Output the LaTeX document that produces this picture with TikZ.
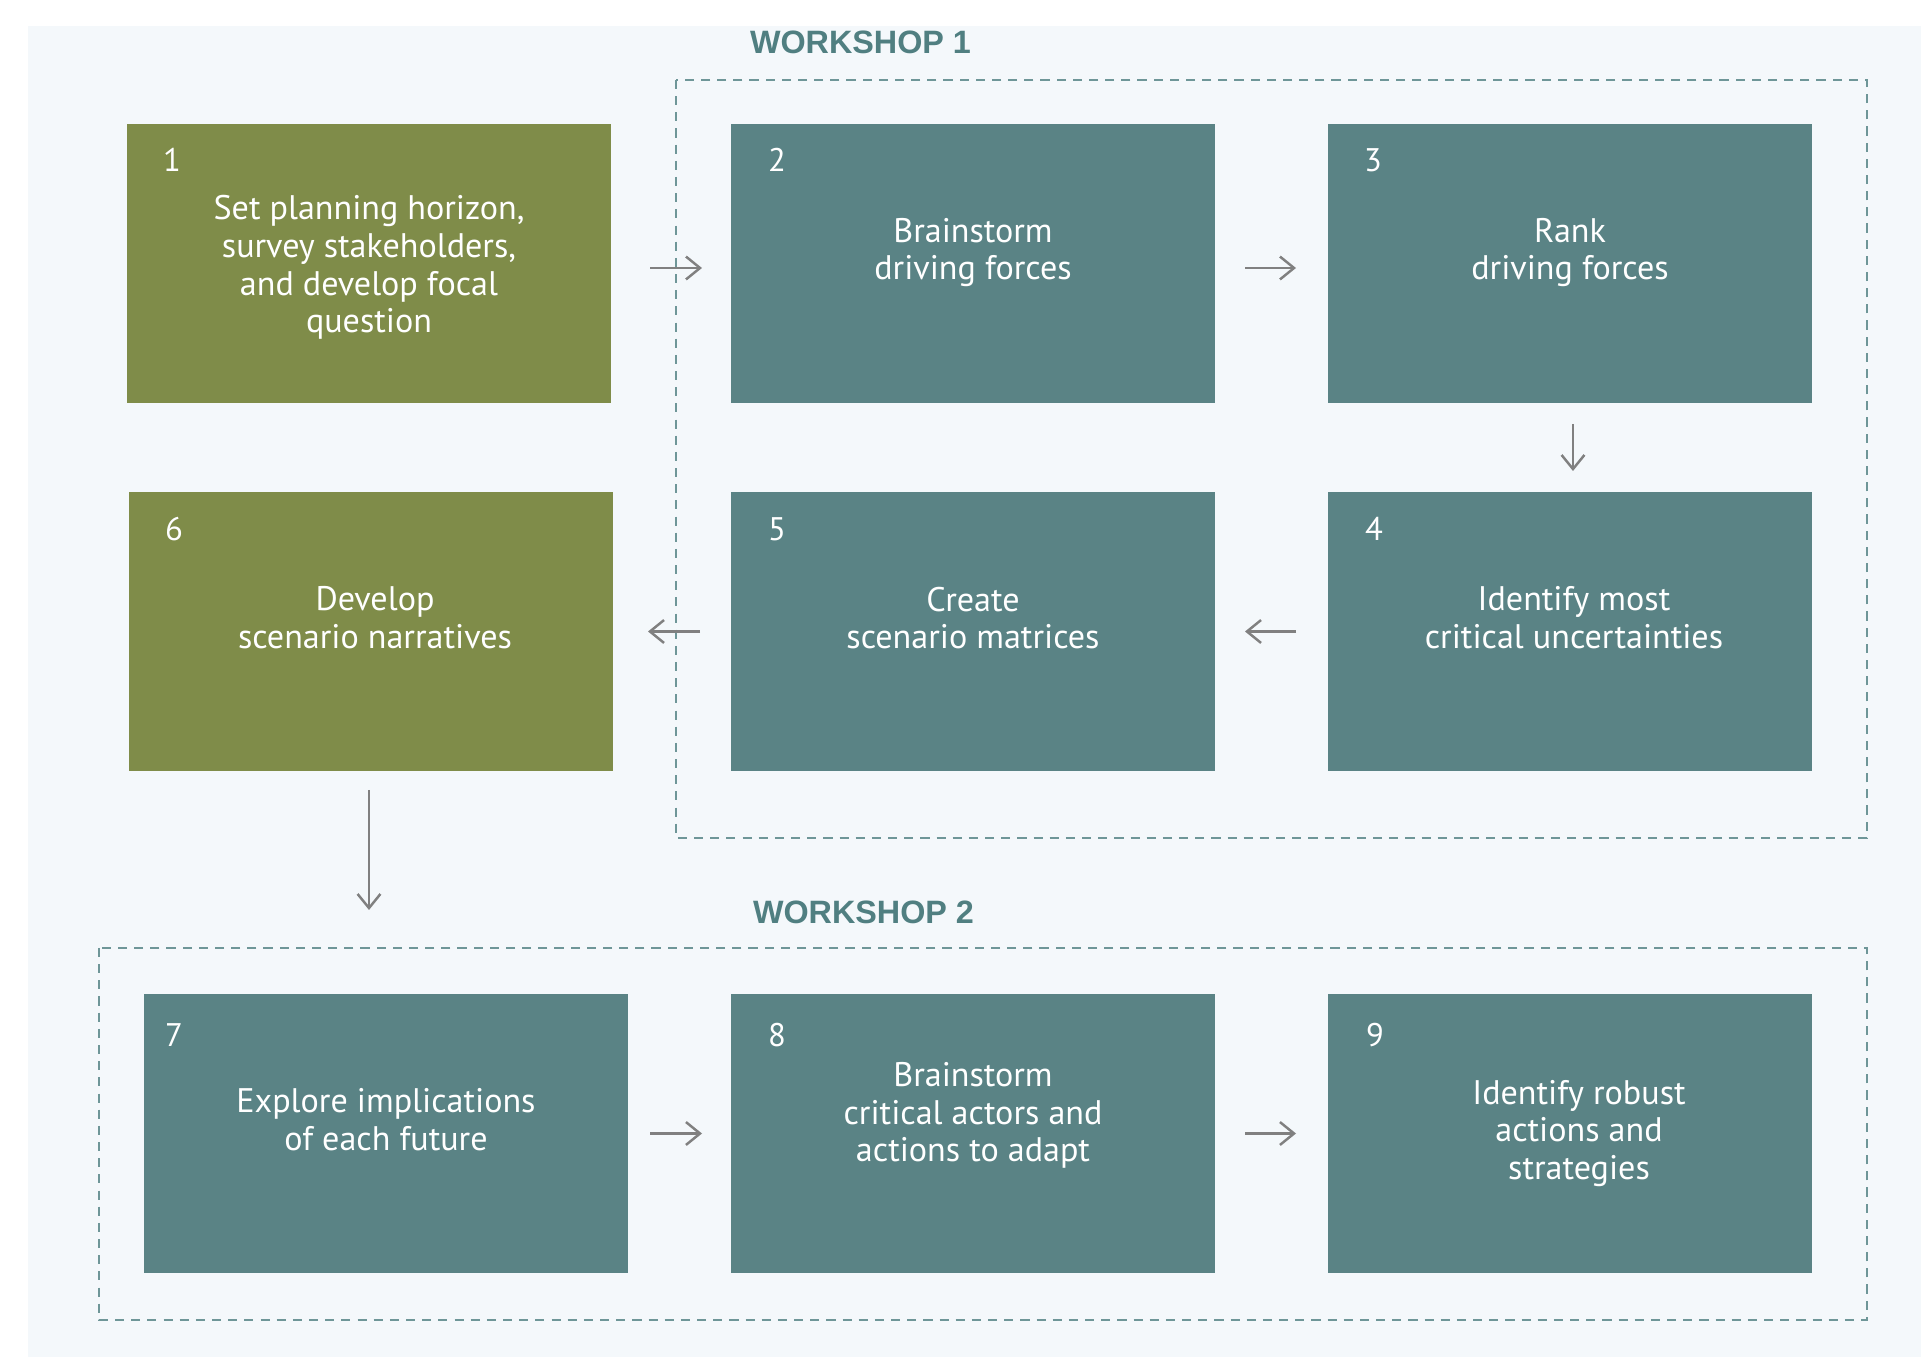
\documentclass[tikz,border=0pt]{standalone}
\usepackage{fontspec}
\setmainfont{PT Sans}
\newfontfamily\headfont{Liberation Sans}
\usepackage{tikz}
\usetikzlibrary{positioning, arrows.meta}
\definecolor{stepgreen}{RGB}{127,140,73}
\definecolor{stepteal}{RGB}{90,131,133}
\definecolor{bgblue}{RGB}{244,248,251}
\definecolor{frameteal}{RGB}{110,150,152}
\definecolor{headteal}{RGB}{80,127,129}
\definecolor{arrowgrey}{RGB}{128,128,128}
\tikzstyle{stepbox}=[rectangle, draw=none, minimum width=4.84cm, minimum height=2.79cm, inner sep=0pt, outer sep=0pt]
\tikzstyle{steptext}=[align=center, text=white, font=\fontsize{9.7}{10.75}\selectfont]
\tikzstyle{stepnum}=[text=white, font=\fontsize{9.3}{10.8}\selectfont]
\tikzstyle{flow}=[-{Straight Barb[length=4pt, width=6.5pt]}, draw=arrowgrey, line width=0.7pt]
\tikzstyle{frame}=[draw=frameteal, line width=0.6pt, dash pattern=on 2.6pt off 2pt]
\tikzstyle{wshead}=[text=headteal, font=\headfont\bfseries\fontsize{9.2}{10.8}\selectfont]

\begin{document}
\begin{tikzpicture}
		\useasboundingbox (0,0) rectangle (19.21,-13.57);
		\fill[bgblue] (0.28,-0.26) rectangle (19.21,-13.57);
		\node[stepbox, fill=stepgreen] (b1) at (3.69,-2.635) {};
		\node[stepbox, fill=stepteal, right=1.2cm of b1] (b2) {};
		\node[stepbox, fill=stepteal, right=1.13cm of b2] (b3) {};
		\node[stepbox, fill=stepteal, below=0.89cm of b3] (b4) {};
		\node[stepbox, fill=stepteal, below=0.89cm of b2] (b5) {};
		\node[stepbox, fill=stepgreen, below=0.89cm of b1, xshift=0.02cm] (b6) {};
		\node[stepbox, fill=stepteal, below=2.23cm of b5] (b8) {};
		\node[stepbox, fill=stepteal, left=1.03cm of b8] (b7) {};
		\node[stepbox, fill=stepteal, below=2.23cm of b4] (b9) {};
		\node[stepnum] (n1) at ([xshift=0.45cm, yshift=-0.36cm]b1.north west) {1};
		\node[stepnum] (n2) at ([xshift=0.46cm, yshift=-0.36cm]b2.north west) {2};
		\node[stepnum] (n3) at ([xshift=0.45cm, yshift=-0.36cm]b3.north west) {3};
		\node[stepnum] (n4) at ([xshift=0.46cm, yshift=-0.37cm]b4.north west) {4};
		\node[stepnum] (n5) at ([xshift=0.46cm, yshift=-0.37cm]b5.north west) {5};
		\node[stepnum] (n6) at ([xshift=0.45cm, yshift=-0.37cm]b6.north west) {6};
		\node[stepnum] (n7) at ([xshift=0.30cm, yshift=-0.41cm]b7.north west) {7};
		\node[stepnum] (n8) at ([xshift=0.46cm, yshift=-0.41cm]b8.north west) {8};
		\node[stepnum] (n9) at ([xshift=0.47cm, yshift=-0.41cm]b9.north west) {9};
		\node[steptext] (t1) at ([yshift=-0.04cm]b1.center) {Set planning horizon,\\survey stakeholders,\\and develop focal\\question};
		\node[steptext] (t2) at ([yshift=0.11cm]b2.center) {Brainstorm\\driving forces};
		\node[steptext] (t3) at ([yshift=0.11cm]b3.center) {Rank\\driving forces};
		\node[steptext] (t4) at ([xshift=0.04cm, yshift=0.135cm]b4.center) {Identify most\\critical uncertainties};
		\node[steptext] (t5) at ([yshift=0.135cm]b5.center) {Create\\scenario matrices};
		\node[steptext] (t6) at ([xshift=0.04cm, yshift=0.135cm]b6.center) {Develop\\scenario narratives};
		\node[steptext] (t7) at ([yshift=0.135cm]b7.center) {Explore implications\\of each future};
		\node[steptext] (t8) at ([yshift=0.18cm]b8.center) {Brainstorm\\critical actors and\\actions to adapt};
		\node[steptext] (t9) at ([xshift=0.09cm, yshift=0.00cm]b9.center) {Identify robust\\actions and\\strategies};
		\draw[frame] ([shift={(-0.55,0.44)}]b2.north west) rectangle ([shift={(0.55,-0.67)}]b4.south east);
		\draw[frame] ([shift={(-0.45,0.46)}]b7.north west) rectangle ([shift={(0.55,-0.47)}]b9.south east);
		\node[wshead] (ws1) at (8.605,-0.425) {WORKSHOP 1};
		\node[wshead] (ws2) at (8.635,-9.12) {WORKSHOP 2};
		\coordinate (w2in) at ([yshift=-1.39cm]b6.south);
		\draw[flow, shorten <=0.39cm, shorten >=0.29cm] ([yshift=-0.045cm]b1.east) -- ([yshift=-0.045cm]b2.west);
		\draw[flow, shorten <=0.30cm, shorten >=0.32cm] ([yshift=-0.045cm]b2.east) -- ([yshift=-0.045cm]b3.west);
		\draw[flow, shorten <=0.21cm, shorten >=0.21cm] ([xshift=0.03cm]b3.south) -- ([xshift=0.03cm]b4.north);
		\draw[flow, shorten <=0.32cm, shorten >=0.30cm] (b4.west) -- (b5.east);
		\draw[flow, shorten <=0.31cm, shorten >=0.35cm] (b5.west) -- (b6.east);
		\draw[flow, shorten <=0.19cm] ([xshift=-0.02cm]b6.south) -- ([xshift=-0.02cm]w2in);
		\draw[flow, shorten <=0.22cm, shorten >=0.29cm] (b7.east) -- (b8.west);
		\draw[flow, shorten <=0.30cm, shorten >=0.32cm] (b8.east) -- (b9.west);
	\end{tikzpicture}
\end{document}
